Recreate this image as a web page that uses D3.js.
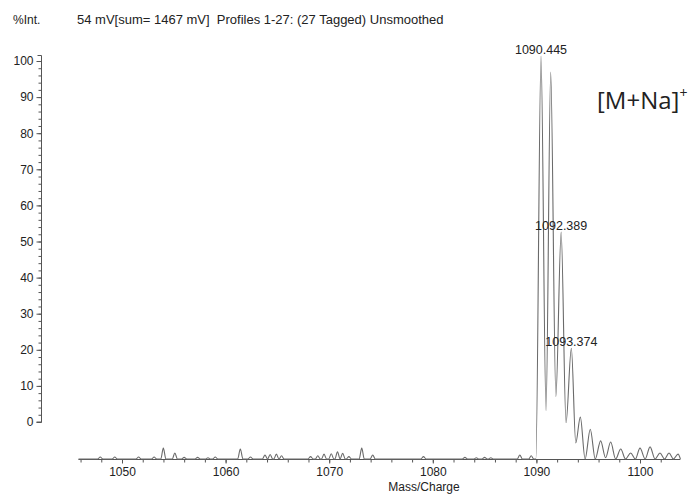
<!DOCTYPE html>
<html>
<head>
<meta charset="utf-8">
<script src="https://cdn.jsdelivr.net/npm/d3@7/dist/d3.min.js"></script>
<style>
  body { margin: 0; background: #fff; }
  svg text { font-family: "Liberation Sans", Arial, sans-serif; fill: #222; }
</style>
</head>
<body>
<div id="chart"></div>
<script>
// isotope cluster of the [M+Na]+ ion: apexes and valleys (m/z, % intensity)
const clusterMz = [1089.95, 1090.445, 1090.93, 1091.38, 1091.88, 1092.389, 1092.86, 1093.374,
  1093.8, 1094.24, 1094.7, 1095.2, 1095.68, 1096.2, 1096.68, 1097.17, 1097.65, 1098.14,
  1098.6, 1099.1, 1099.55, 1100.0, 1100.5, 1100.97, 1101.45, 1101.93, 1102.37, 1102.8,
  1103.23, 1103.67, 1103.9];
const clusterInt = [0, 100, 12, 96, 15.5, 56.3, 9, 27.5,
  4, 10.4, 0, 7.4, 0, 4.5, 0.3, 4.2, 0, 2.5,
  0, 1.5, 0, 2.7, 0, 3, 0, 1.5, 0, 1.5,
  0, 1.2, 0];

// small peaks sitting on the baseline (apex m/z, % intensity)
const noiseMz = [1047.9, 1049.3, 1051.6, 1053.1, 1053.99, 1055.1, 1056.0, 1057.3, 1058.3, 1059.0,
  1061.42, 1062.4, 1063.8, 1064.3, 1064.9, 1065.4, 1068.2, 1068.9, 1069.5, 1070.2,
  1070.8, 1071.3, 1071.9, 1073.14, 1074.2, 1079.1, 1083.1, 1084.2, 1085.0, 1085.6,
  1088.4, 1089.5];
const noiseInt = [0.5, 0.5, 0.5, 0.5, 2.7, 1.5, 0.4, 0.4, 0.3, 0.5,
  2.5, 0.5, 1.0, 1.1, 1.2, 0.8, 0.6, 0.8, 1.2, 1.3,
  1.8, 1.4, 0.6, 2.7, 1.0, 0.6, 0.4, 0.3, 0.4, 0.3,
  1.0, 0.8];

const massRange = [1045.8, 1103.9];

const peakLabels = ["1090.445", "1092.389", "1093.374"];
const peakLabelInt = [100, 56.3, 27.5];

const yTicks = [0, 10, 20, 30, 40, 50, 60, 70, 80, 90, 100];
const xTicks = [1050, 1060, 1070, 1080, 1090, 1100];

const headerText = "54 mV[sum= 1467 mV]  Profiles 1-27: (27 Tagged) Unsmoothed";

function drawSpectrum() {
  const dimensions = { width: 695, height: 495 };

  // build the profile: flat baseline with narrow peaks plus the cluster
  const points = [[massRange[0], 0]];
  noiseMz.forEach((m, i) => {
    points.push([m - 0.25, 0], [m, noiseInt[i]], [m + 0.25, 0]);
  });
  clusterMz.forEach((m, i) => points.push([m, clusterInt[i]]));
  points.push([massRange[1], 0]);
  points.sort((a, b) => a[0] - b[0]);

  const wrapper = d3.select("#chart")
    .append("svg")
    .attr("width", dimensions.width)
    .attr("height", dimensions.height);

  const xScale = d3.scaleLinear()
    .domain([1050, 1100])
    .range([122, 640]);

  // printed y axis and the trace do not share the same zero in the scan
  const yAxisScale = d3.scaleLinear()
    .domain([0, 100])
    .range([422, 61]);

  const yScale = d3.scaleLinear()
    .domain([0, 100])
    .range([459, 56]);

  const axisColor = "#555";

  // x axis
  const baseY = yScale(0);
  wrapper.append("line")
    .attr("x1", xScale(massRange[0]))
    .attr("x2", xScale(massRange[1]))
    .attr("y1", baseY + 0.5)
    .attr("y2", baseY + 0.5)
    .attr("stroke", axisColor);

  const xMinor = wrapper.append("g")
    .attr("transform", `translate(0, ${baseY + 0.5})`)
    .call(d3.axisBottom(xScale).tickValues(d3.range(1046, 1104, 2)).tickSize(3).tickFormat(""));
  xMinor.select(".domain").remove();
  xMinor.selectAll("line").attr("stroke", axisColor);

  const xAxis = wrapper.append("g")
    .attr("transform", `translate(0, ${baseY + 0.5})`)
    .call(d3.axisBottom(xScale).tickValues(xTicks).tickSize(4).tickPadding(4)
      .tickFormat(d3.format("d")));
  xAxis.select(".domain").remove();
  xAxis.selectAll("line").attr("stroke", axisColor);
  xAxis.selectAll("text")
    .attr("font-size", 12)
    .attr("font-family", null)
    .attr("fill", "#222");

  wrapper.append("text")
    .attr("x", 424)
    .attr("y", 491)
    .attr("text-anchor", "middle")
    .attr("font-size", 12)
    .text("Mass/Charge");

  // y axis
  const axisX = 41.5;
  wrapper.append("path")
    .attr("d", `M${axisX - 4},55.5 H${axisX} V${yAxisScale(0)} H${axisX - 5}`)
    .attr("fill", "none")
    .attr("stroke", axisColor);

  const yMinor = wrapper.append("g")
    .attr("transform", `translate(${axisX}, 0)`)
    .call(d3.axisLeft(yAxisScale).tickValues(d3.range(0, 101, 2)).tickSize(3).tickFormat(""));
  yMinor.select(".domain").remove();
  yMinor.selectAll("line").attr("stroke", axisColor);

  const yAxis = wrapper.append("g")
    .attr("transform", `translate(${axisX}, 0)`)
    .call(d3.axisLeft(yAxisScale).tickValues(yTicks).tickSize(5).tickPadding(3));
  yAxis.select(".domain").remove();
  yAxis.selectAll("line").attr("stroke", axisColor);
  yAxis.selectAll("text")
    .attr("font-size", 12)
    .attr("font-family", null)
    .attr("fill", "#222");

  // trace
  const lineGenerator = d3.line()
    .x((d) => xScale(d[0]))
    .y((d) => yScale(d[1]))
    .curve(d3.curveMonotoneX);

  wrapper.append("path")
    .attr("d", lineGenerator(points))
    .attr("fill", "none")
    .attr("stroke", "#6a6a6a")
    .attr("stroke-width", 1.1);

  // peak labels
  wrapper.selectAll(".peak-label")
    .data(peakLabels)
    .join("text")
    .attr("class", "peak-label")
    .attr("x", (d) => xScale(+d))
    .attr("y", (d, i) => yScale(peakLabelInt[i]) - 2)
    .attr("text-anchor", "middle")
    .attr("font-size", 12.5)
    .text((d) => d);

  // header
  wrapper.append("text")
    .attr("x", 13)
    .attr("y", 24)
    .attr("font-size", 12)
    .text("%Int.");

  wrapper.append("text")
    .attr("x", 77)
    .attr("y", 24)
    .attr("font-size", 13)
    .style("white-space", "pre")
    .text(headerText);

  // ion annotation
  const ion = wrapper.append("text")
    .attr("x", 597)
    .attr("y", 109)
    .attr("font-size", 24)
    .style("font-family", "'Open Sans', sans-serif")
    .attr("fill", "#111");
  ion.append("tspan").text("[M+Na]");
  ion.append("tspan")
    .attr("dy", -11)
    .attr("font-size", 14)
    .text("+");
}

drawSpectrum();
</script>
</body>
</html>
